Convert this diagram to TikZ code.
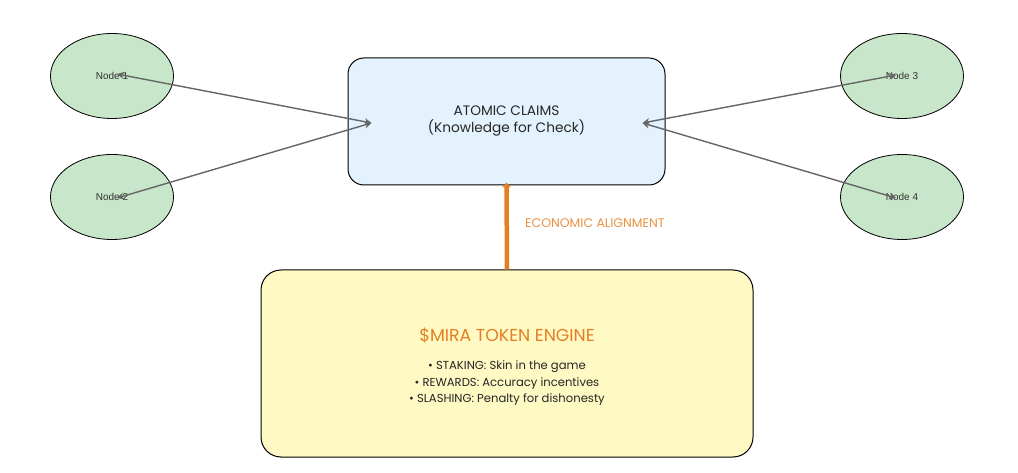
\documentclass[tikz,border=0pt]{standalone}
\usepackage{fontspec}
\setmainfont{Poppins}
\newfontfamily\nodefont{Liberation Sans}
\usetikzlibrary{shapes.geometric,arrows.meta}
\definecolor{nodegreen}{RGB}{200,230,201}
\definecolor{claimblue}{RGB}{227,242,253}
\definecolor{engineyellow}{RGB}{255,249,196}
\definecolor{accent}{RGB}{230,126,34}
\definecolor{linkgray}{RGB}{102,102,102}
\tikzset{
  peer/.style={ellipse, draw=black, line width=0.8pt, fill=nodegreen, minimum width=123pt, minimum height=85pt, inner sep=0pt, font=\nodefont\fontsize{10}{12}\selectfont, text=black!80},
  claimbox/.style={rectangle, rounded corners=16pt, draw=black, line width=1pt, fill=claimblue, minimum width=317pt, minimum height=127pt, inner sep=0pt},
  enginebox/.style={rectangle, rounded corners=20pt, draw=black, line width=1pt, fill=engineyellow, minimum width=492pt, minimum height=187pt, inner sep=0pt},
  link/.style={draw=linkgray, line width=1.4pt, {Stealth[length=7pt,width=7pt]}-{Stealth[length=7pt,width=7pt]}},
  alignarrow/.style={draw=accent, line width=4.5pt, -{Stealth[length=5pt,width=9pt]}},
  txt/.style={inner sep=0pt, align=center}
}
\begin{document}
\begin{tikzpicture}[x=1pt,y=-1pt]
\useasboundingbox (0,0) rectangle (1018,473);
\fill[white] (0,0) rectangle (1018,473);

\node[peer] (n1) at (112,76) {Node 1};
\node[peer] (n2) at (112,197) {Node 2};
\node[peer] (n3) at (902,76) {Node 3};
\node[peer] (n4) at (902,197) {Node 4};

\node[claimbox] (claims) at (506.5,121.5) {};
\node[txt, font=\fontsize{13.7}{17}\selectfont, text=black!85] (claimtxt) at (506.5,121.5) {ATOMIC CLAIMS\\(Knowledge for Check)};

\node[enginebox] (engine) at (507,363.5) {};
\node[txt, font=\fontsize{17.3}{18}\selectfont, text=accent] (enginetitle) at (507,335) {\$MIRA TOKEN ENGINE};
\node[txt, font=\fontsize{11.6}{16.5}\selectfont, text=black!85] (enginelist) at (507,383.5) {• STAKING: Skin in the game\\• REWARDS: Accuracy incentives\\• SLASHING: Penalty for dishonesty};

\coordinate (cl) at ([xshift=24pt,yshift=-1.5pt]claims.west);
\coordinate (cr) at ([xshift=-23pt,yshift=-1.5pt]claims.east);

\draw[link] ([xshift=5pt,yshift=2pt]n1.center) -- (cl);
\draw[link] ([xshift=5pt,yshift=-1pt]n2.center) -- (cl);
\draw[link] ([xshift=-6pt,yshift=1pt]n3.center) -- (cr);
\draw[link] ([xshift=-6pt,yshift=-1pt]n4.center) -- (cr);

\draw[alignarrow] (engine.north) -- ([yshift=3pt]claims.south);
\node[txt, anchor=west, font=\fontsize{12.5}{13}\selectfont, text=accent!85] (econ) at (525,223) {ECONOMIC ALIGNMENT};
\end{tikzpicture}
\end{document}
